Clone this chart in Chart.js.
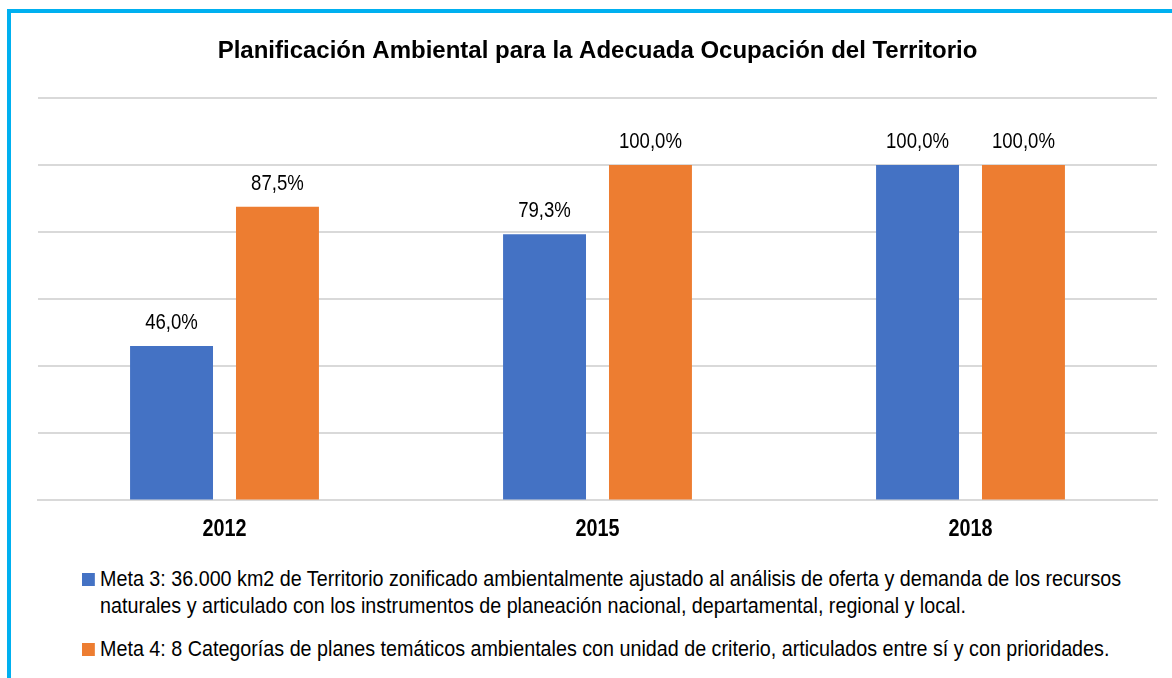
<!DOCTYPE html>
<html>
<head>
<meta charset="utf-8">
<script src="https://cdn.jsdelivr.net/npm/chart.js@4"></script>
<style>
  body { margin: 0; background: #fff; }
  #frame {
    position: absolute; left: 7px; top: 9px; width: 1200px; height: 700px;
    border: 4px solid #00B0F0; box-sizing: border-box;
  }
  #wrap { position: absolute; left: 0; top: 0; width: 1172px; height: 560px; }
  #legend {
    position: absolute; left: 82px; top: 566px; width: 1160px;
    list-style: none; margin: 0; padding: 0;
    font-family: "Liberation Sans", Arial, sans-serif;
    font-size: 21.5px; line-height: 27px; color: #000;
    transform: scaleX(0.917); transform-origin: 0 0;
  }
  #legend li { display: flex; align-items: flex-start; margin-bottom: 16px; }
  #legend .box { flex: none; width: 14.2px; height: 13px; margin: 7px 5.5px 0 0; }
</style>
</head>
<body>
<div id="frame"></div>
<div id="wrap"><canvas id="chart" width="1172" height="560"></canvas></div>
<ul id="legend"></ul>
<script>
const categories = ['2012', '2015', '2018'];
const meta3 = [46.0, 79.3, 100.0];
const meta4 = [87.5, 100.0, 100.0];
const seriesNames = [
  'Meta 3: 36.000 km2 de Territorio zonificado ambientalmente ajustado al análisis de oferta y demanda de los recursos naturales y articulado con los instrumentos de planeación nacional, departamental, regional y local.',
  'Meta 4: 8 Categorías de planes temáticos ambientales con unidad de criterio, articulados entre sí y con prioridades.'
];
const colors = ['#4472C4', '#ED7D31'];

const FONT = '"Liberation Sans", Arial, sans-serif';

// texto un poco estrecho (como Arial Narrow)
function narrowText(ctx, txt, x, y, sx) {
  ctx.save();
  ctx.translate(x, y);
  ctx.scale(sx, 1);
  ctx.fillText(txt, 0, 0);
  ctx.restore();
}

const valueLabels = {
  id: 'valueLabels',
  afterDatasetsDraw(c) {
    const ctx = c.ctx;
    ctx.save();
    ctx.font = '22px ' + FONT;
    ctx.fillStyle = '#000';
    ctx.textAlign = 'center';
    ctx.textBaseline = 'alphabetic';
    c.data.datasets.forEach((ds, i) => {
      c.getDatasetMeta(i).data.forEach((bar, j) => {
        const txt = ds.data[j].toFixed(1).replace('.', ',') + '%';
        narrowText(ctx, txt, bar.x, bar.y - 17, 0.845);
      });
    });
    // etiquetas del eje x
    const xs = c.scales.x;
    ctx.font = 'bold 23px ' + FONT;
    ctx.textBaseline = 'middle';
    xs.ticks.forEach((t, i) => {
      narrowText(ctx, c.data.labels[i], xs.getPixelForTick(i), 530, 0.86);
    });
    ctx.restore();
  }
};

const chart = new Chart(document.getElementById('chart'), {
  type: 'bar',
  data: {
    labels: categories,
    datasets: [
      { label: seriesNames[0], data: meta3, backgroundColor: colors[0] },
      { label: seriesNames[1], data: meta4, backgroundColor: colors[1] }
    ]
  },
  options: {
    responsive: false,
    animation: false,
    layout: { padding: { left: 38, right: 15, top: 0, bottom: 0 } },
    datasets: { bar: { barPercentage: 0.783, categoryPercentage: 0.568 } },
    scales: {
      x: {
        grid: { display: false },
        border: { color: '#d9d9d9', width: 2 },
        ticks: { color: 'rgba(0,0,0,0)', font: { family: FONT, size: 23, weight: 'bold' }, padding: 12 }
      },
      y: {
        min: 0, max: 120,
        ticks: { display: false, stepSize: 20 },
        border: { display: false },
        grid: { color: '#d9d9d9', lineWidth: 2, drawTicks: false }
      }
    },
    plugins: {
      legend: { display: false },
      tooltip: { enabled: false },
      title: {
        display: true,
        text: 'Planificación Ambiental para la Adecuada Ocupación del Territorio',
        color: '#000',
        font: { family: FONT, size: 24, weight: 'bold' },
        padding: { top: 37, bottom: 32 }
      }
    }
  },
  plugins: [valueLabels]
});

const ul = document.getElementById('legend');
seriesNames.forEach((name, i) => {
  const li = document.createElement('li');
  const box = document.createElement('span');
  box.className = 'box';
  box.style.backgroundColor = colors[i];
  const label = document.createElement('span');
  label.textContent = name;
  li.appendChild(box);
  li.appendChild(label);
  ul.appendChild(li);
});
</script>
</body>
</html>
